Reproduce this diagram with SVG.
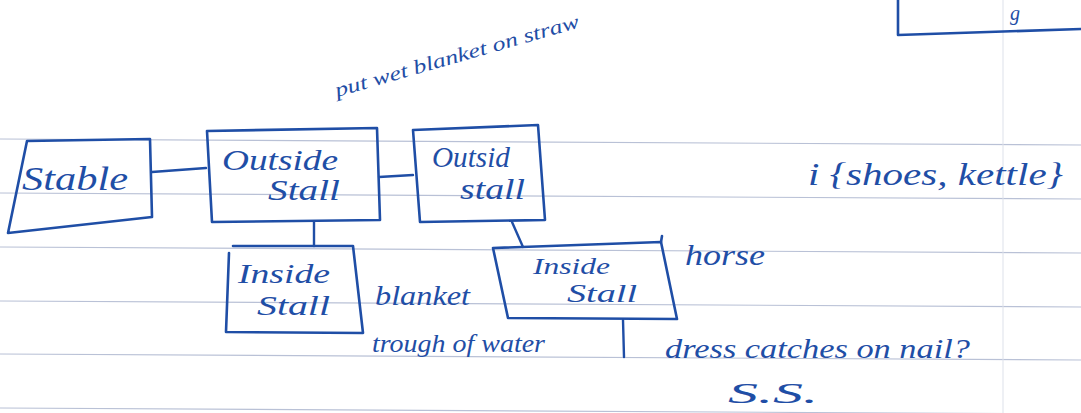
<svg xmlns="http://www.w3.org/2000/svg" width="1081" height="413" viewBox="0 0 1081 413">
<style>
.rule{stroke:#b9c1d6;stroke-width:1.2;fill:none}
.vrule{stroke:#dde1ea;stroke-width:1;fill:none}
.box{fill:none;stroke:#1f4ea6;stroke-width:2.6;stroke-linejoin:round;stroke-linecap:round}
.con{fill:none;stroke:#1f4ea6;stroke-width:2.4;stroke-linecap:round}
.hw{font-family:"Liberation Serif",serif;font-style:italic;fill:#1f4ea6}
</style>
<rect width="1081" height="413" fill="#ffffff"/>
<g id="paper">
<line class="rule" x1="0" y1="139" x2="1081" y2="145"/>
<line class="rule" x1="0" y1="193" x2="1081" y2="199"/>
<line class="rule" x1="0" y1="247" x2="1081" y2="253"/>
<line class="rule" x1="0" y1="301" x2="1081" y2="307"/>
<line class="rule" x1="0" y1="354" x2="1081" y2="360"/>
<line class="rule" x1="0" y1="408" x2="1081" y2="414"/>
<line class="vrule" x1="1003" y1="0" x2="1003" y2="413"/>
</g>
<g id="connectors">
<path class="con" d="M152,172 L206,168"/>
<path class="con" d="M379,177 L413,175"/>
<path class="con" d="M314,222 L314,246"/>
<path class="con" d="M512,222 L523,247"/>
<path class="con" d="M623,320 L624,357"/>
</g>
<g id="top-box">
<path class="box" d="M898,0 L898,35 L1081,29"/>
<text class="hw" x="1010" y="20" font-size="20">g</text>
</g>
<g id="stable">
<path class="box" d="M27,141 L150,139 L152,217 L8,233 Z"/>
<text class="hw" x="22" y="190" font-size="34" textLength="106" lengthAdjust="spacingAndGlyphs">Stable</text>
</g>
<g id="outside-stall-1">
<path class="box" d="M207,131 L377,128 L380,220 L212,222 Z"/>
<text class="hw" x="222" y="170" font-size="30" textLength="116" lengthAdjust="spacingAndGlyphs">Outside</text>
<text class="hw" x="268" y="200" font-size="30" textLength="72" lengthAdjust="spacingAndGlyphs">Stall</text>
</g>
<g id="outside-stall-2">
<path class="box" d="M413,130 L538,125 L545,220 L420,222 Z"/>
<text class="hw" x="432" y="167" font-size="30" textLength="78" lengthAdjust="spacingAndGlyphs">Outsid</text>
<text class="hw" x="460" y="199" font-size="30" textLength="65" lengthAdjust="spacingAndGlyphs">stall</text>
</g>
<g id="inside-stall-1">
<path class="box" d="M233,246 L353,246 L363,333 L226,332 L229,253"/>
<text class="hw" x="238" y="283" font-size="28" textLength="92" lengthAdjust="spacingAndGlyphs">Inside</text>
<text class="hw" x="257" y="315" font-size="28" textLength="73" lengthAdjust="spacingAndGlyphs">Stall</text>
</g>
<g id="inside-stall-2">
<path class="box" d="M493,248 L661,242 L677,319 L508,318 Z"/>
<path class="box" d="M661,242 L662,236"/>
<text class="hw" x="533" y="274" font-size="23" textLength="77" lengthAdjust="spacingAndGlyphs">Inside</text>
<text class="hw" x="567" y="302" font-size="25" textLength="70" lengthAdjust="spacingAndGlyphs">Stall</text>
</g>
<g id="notes">
<text class="hw" x="337" y="97" font-size="20" textLength="253" lengthAdjust="spacingAndGlyphs" transform="rotate(-16 337 97)">put wet blanket on straw</text>
<text class="hw" x="808" y="185" font-size="32" textLength="255" lengthAdjust="spacingAndGlyphs">i {shoes, kettle}</text>
<text class="hw" x="685" y="265" font-size="30" textLength="80" lengthAdjust="spacingAndGlyphs">horse</text>
<text class="hw" x="375" y="305" font-size="28" textLength="95" lengthAdjust="spacingAndGlyphs">blanket</text>
<text class="hw" x="372" y="352" font-size="26" textLength="173" lengthAdjust="spacingAndGlyphs">trough of water</text>
<text class="hw" x="665" y="358" font-size="28" textLength="305" lengthAdjust="spacingAndGlyphs">dress catches on nail?</text>
<text class="hw" x="728" y="403" font-size="30" textLength="90" lengthAdjust="spacingAndGlyphs" font-style="normal">S.S.</text>
</g>
</svg>
